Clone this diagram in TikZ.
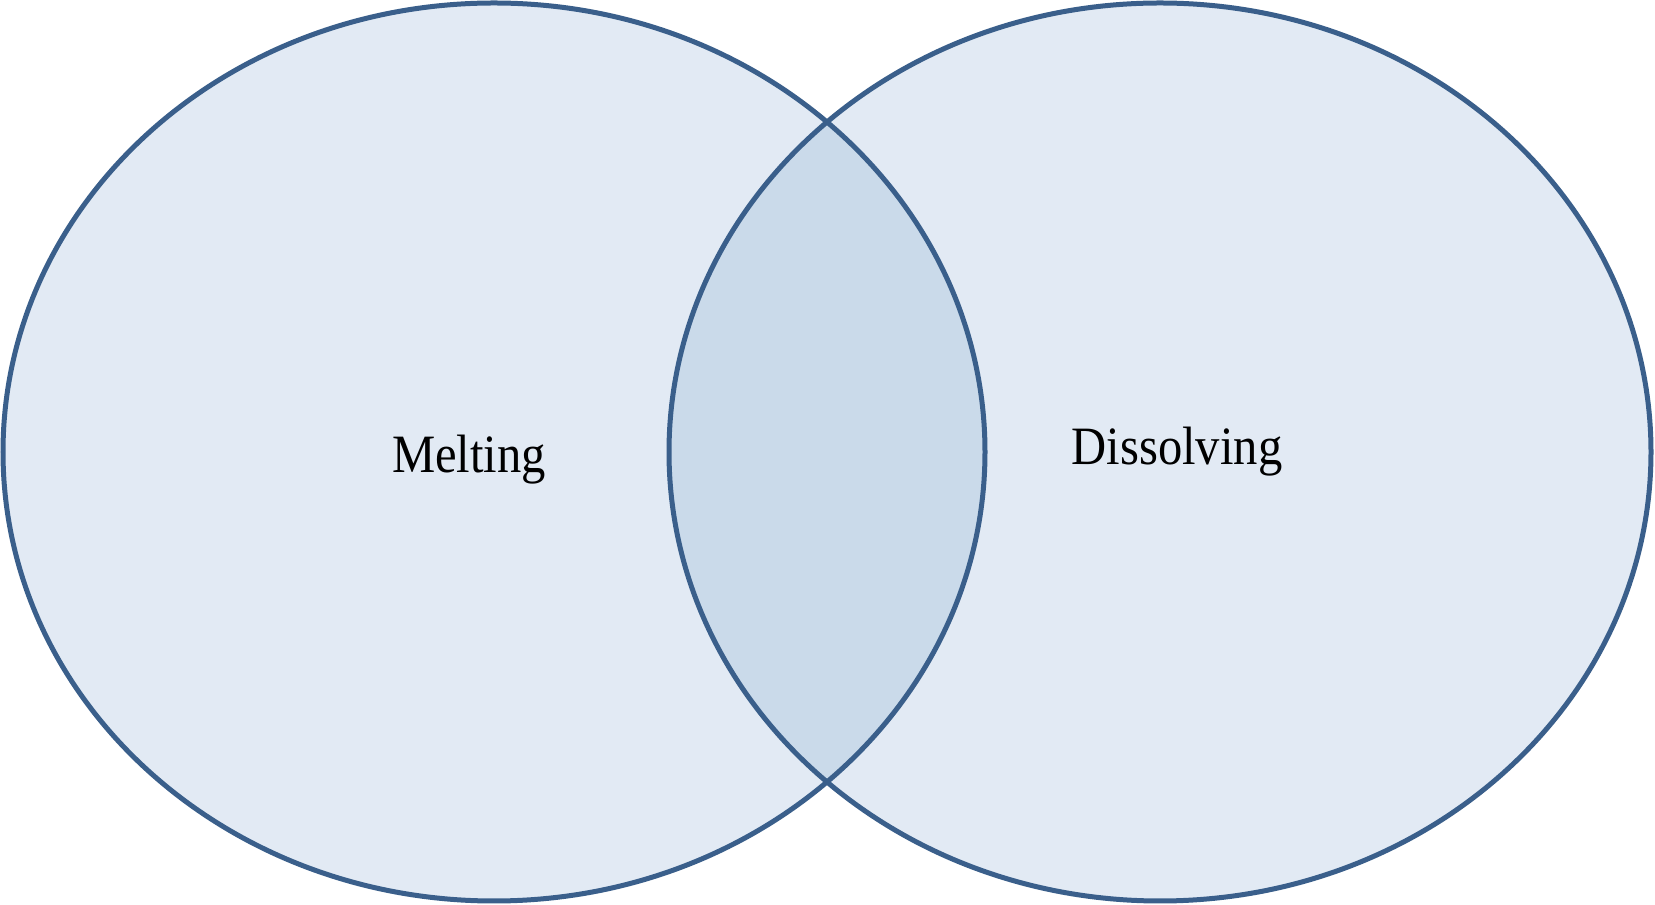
\documentclass[tikz,border=0pt]{standalone}
\usepackage{fontspec}
\setmainfont{Liberation Serif}
\usepackage{tikz}

\definecolor{vennline}{RGB}{58,95,139}
\definecolor{vennfill}{RGB}{226,234,244}
\definecolor{venncap}{RGB}{202,218,234}

\begin{document}
\begin{tikzpicture}[x=0.5pt,y=0.5pt]
\tikzstyle{setline}=[draw=vennline,line width=2.5pt]
\tikzstyle{setname}=[font=\fontsize{27}{32}\selectfont,anchor=base,xscale=0.9,transform shape]
\useasboundingbox (0,0) rectangle (1655,905);
\coordinate (L) at (494,453);
\coordinate (R) at (1160,453);
\fill[vennfill] (L) ellipse [x radius=491,y radius=449];
\fill[vennfill] (R) ellipse [x radius=491,y radius=449];
\begin{scope}
\clip (L) ellipse [x radius=491,y radius=449];
\fill[venncap] (R) ellipse [x radius=491,y radius=449];
\end{scope}
\draw[setline] (L) ellipse [x radius=491,y radius=449];
\draw[setline] (R) ellipse [x radius=491,y radius=449];
\node[setname] (melt) at (469,432) {Melting};
\node[setname] (diss) at (1177,440) {Dissolving};
\end{tikzpicture}
\end{document}
